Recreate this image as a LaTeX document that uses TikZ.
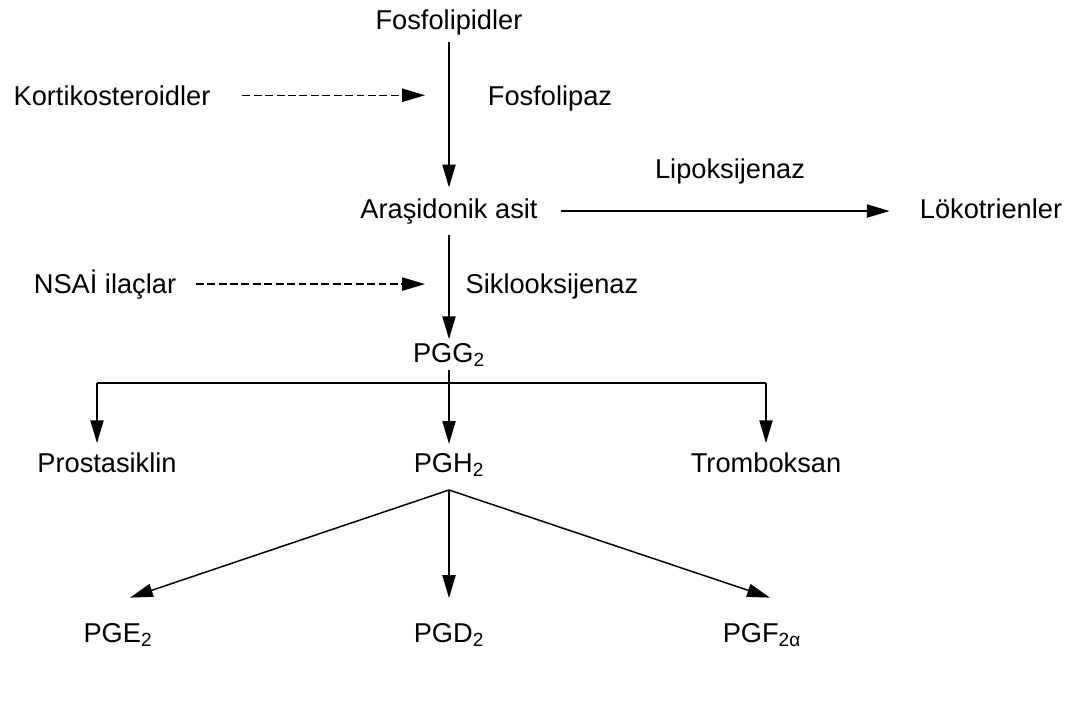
\documentclass[tikz,border=0pt]{standalone}
\usepackage{fontspec}
\setmainfont{Liberation Sans}
\usetikzlibrary{arrows.meta}

\begin{document}
\begin{tikzpicture}[x=0.02cm,y=-0.02cm]
        \tikzstyle{every node}=[font=\fontsize{15.5}{18}\selectfont,inner sep=0pt,anchor=base]
        \tikzstyle{cizgi}=[line width=0.85pt]
        \tikzstyle{ok}=[cizgi,-{Triangle[length=13pt,width=7.5pt]}]
        \tikzstyle{kesikok}=[ok,dash pattern=on 4.5pt off 2pt]
        \useasboundingbox (0,0) rectangle (1072,707);
        % maddeler
        \node (fosfo) at (449,29) {Fosfolipidler};
        \node (kortiko) at (112,105) {Kortikosteroidler};
        \node (fosfolipaz) at (550,105) {Fosfolipaz};
        \node (aras) at (449,218) {Araşidonik asit};
        \node (lipoks) at (730,178) {Lipoksijenaz};
        \node (lok) at (991,218) {Lökotrienler};
        \node (nsai) at (105,293) {NSAİ ilaçlar};
        \node (siklo) at (552,293) {Siklooksijenaz};
        \node (pgg) at (449,362) {PGG\textsubscript{2}};
        \node (prosta) at (107,472) {Prostasiklin};
        \node (pgh) at (449,472) {PGH\textsubscript{2}};
        \node (trombo) at (766,472) {Tromboksan};
        \node (pge) at (118,642) {PGE\textsubscript{2}};
        \node (pgd) at (449,642) {PGD\textsubscript{2}};
        \node (pgf) at (762,642) {PGF\textsubscript{2α}};
        \coordinate (kok) at (425,97);
        \coordinate (nok) at (425,285);
        \coordinate (split) at (449,383);
        \coordinate (solk) at (97,383);
        \coordinate (sagk) at (766,383);
        \coordinate (fork) at (449,490);
        % oklar
        \draw[ok,shorten <=4pt,shorten >=6pt] (fosfo.south) -- (aras.north);
        \draw[kesikok] ([xshift=18pt]kortiko.east) -- (kortiko.east -| kok);
        \draw[ok,shorten <=13pt,shorten >=17pt] (aras.east) -- (aras.east -| lok.west);
        \draw[kesikok] ([xshift=11pt]nsai.east) -- (nsai.east -| nok);
        \draw[ok,shorten <=6pt,shorten >=2pt] (aras.south) -- (pgg.north);
        \draw[cizgi,shorten <=2pt] (pgg.south) -- (split);
        \draw[cizgi] (solk) -- (sagk);
        \draw[ok,shorten >=5pt] (solk) -- (solk |- prosta.north);
        \draw[ok,shorten >=5pt] (split) -- (pgh.north);
        \draw[ok,shorten >=5pt] (sagk) -- (sagk |- trombo.north);
        \draw[ok] (fork) -- ([shift={(12,-25)}]pge.north);
        \draw[ok,shorten >=14pt] (fork) -- (pgd.north);
        \draw[ok] (fork) -- ([shift={(8,-25)}]pgf.north);
\end{tikzpicture}
\end{document}
